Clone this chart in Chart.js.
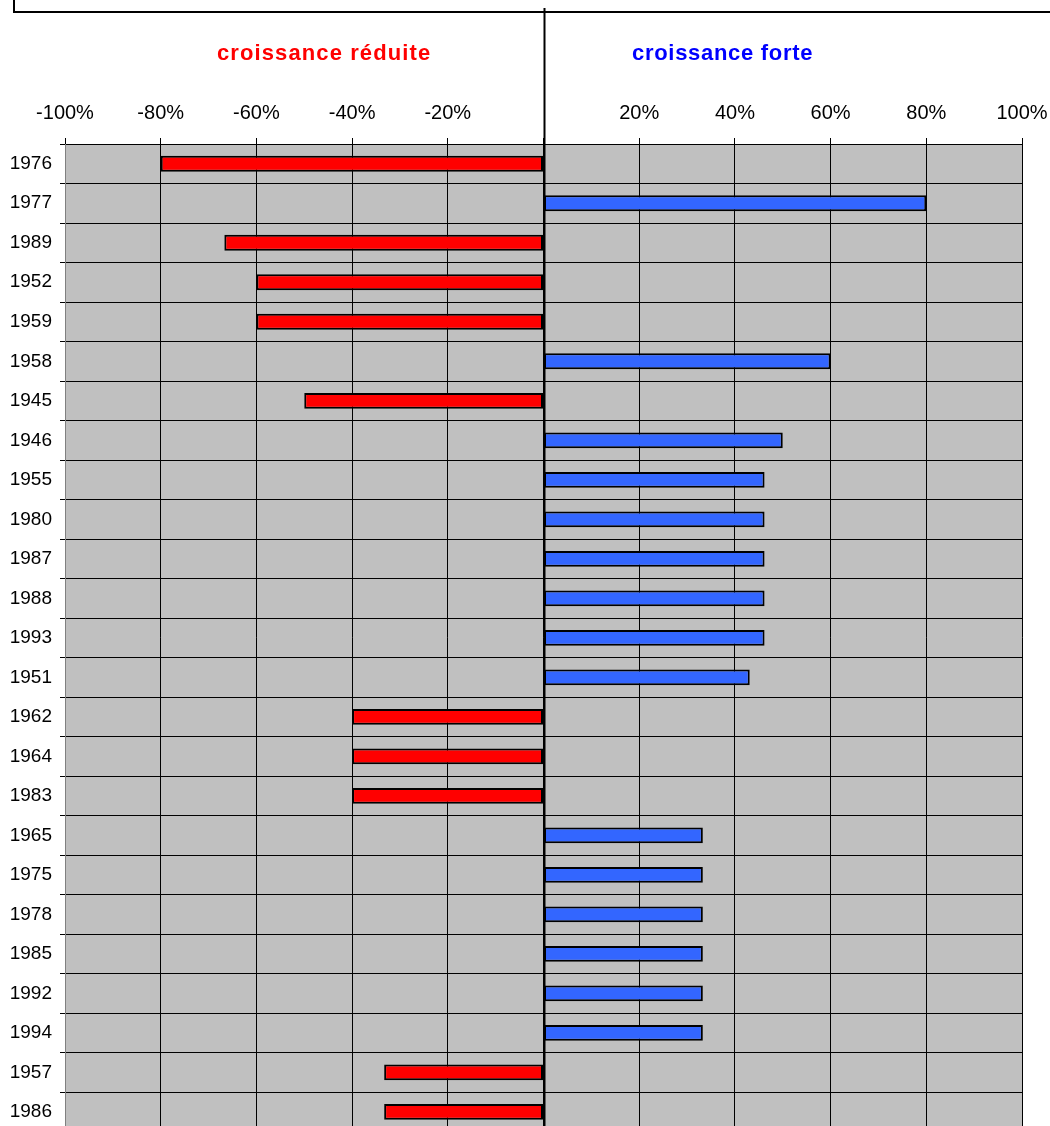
<!DOCTYPE html>
<html>
<head>
<meta charset="utf-8">
<script src="https://cdn.jsdelivr.net/npm/chart.js@4/dist/chart.umd.min.js"></script>
<style>
  html, body { margin: 0; padding: 0; background: #fff; overflow: hidden; }
  #cadre { position: absolute; left: 0; top: 0; width: 1050px; height: 1151px; }
  #bord { position: absolute; left: 13px; top: -4px; width: 1100px; height: 13px; border: 2px solid #000; }
  .titre { position: absolute; top: 42px; line-height: 22px; font-family: "Liberation Sans", Arial, sans-serif; font-weight: bold; font-size: 22px; letter-spacing: 1.1px; }
  #reduite { left: 217px; color: #ff0000; }
  #forte { left: 632px; color: #0000ff; letter-spacing: 0.7px; }
</style>
</head>
<body>
<div id="cadre">
  <canvas id="grafico" width="1050" height="1151"></canvas>
  <div id="bord"></div>
  <div class="titre" id="reduite">croissance réduite</div>
  <div class="titre" id="forte">croissance forte</div>
</div>
<script>
  // Années (ordre du graphique) et écart de croissance en %
  const annees = ['1976', '1977', '1989', '1952', '1959', '1958', '1945', '1946', '1955', '1980',
    '1987', '1988', '1993', '1951', '1962', '1964', '1983', '1965', '1975', '1978',
    '1985', '1992', '1994', '1957', '1986'];
  const ecarts = [-80, 80, -66.7, -60, -60, 60, -50, 50, 46.2, 46.2,
    46.2, 46.2, 46.2, 43.1, -40, -40, -40, 33.3, 33.3, 33.3,
    33.3, 33.3, 33.3, -33.3, -33.3];
  const graduations = [-100, -80, -60, -40, -20, 0, 20, 40, 60, 80, 100];

  const police = "'Liberation Sans', Arial, sans-serif";

  // fond gris de la zone de tracé + trait vertical du zéro
  const decor = {
    id: 'decor',
    beforeDraw(chart) {
      const { ctx, chartArea } = chart;
      ctx.save();
      ctx.fillStyle = '#c0c0c0';
      ctx.fillRect(chartArea.left, chartArea.top, chartArea.right - chartArea.left, chartArea.bottom - chartArea.top);
      ctx.restore();
    },
    afterDatasetsDraw(chart) {
      const { ctx, chartArea } = chart;
      const x0 = Math.round(chart.scales.x.getPixelForValue(0)) + 0.5;
      ctx.save();
      ctx.strokeStyle = '#000';
      ctx.lineWidth = 2;
      ctx.beginPath();
      ctx.moveTo(x0, 8);
      ctx.lineTo(x0, chartArea.bottom);
      ctx.stroke();
      ctx.restore();
    }
  };

  new Chart(document.getElementById('grafico').getContext('2d'), {
    type: 'bar',
    data: {
      labels: annees,
      datasets: [{
        data: ecarts,
        backgroundColor: c => (c.raw < 0 ? '#ff0000' : '#3366ff'),
        borderColor: '#000',
        borderWidth: 2,
        borderSkipped: false,
        barPercentage: 0.4,
        categoryPercentage: 1
      }]
    },
    options: {
      indexAxis: 'y',
      responsive: false,
      animation: false,
      layout: { padding: { top: 88, right: 28, bottom: 0, left: 0 } },
      plugins: { legend: { display: false }, tooltip: { enabled: false } },
      scales: {
        x: {
          position: 'top',
          min: -100,
          max: 100,
          afterBuildTicks: s => { s.ticks = graduations.map(v => ({ value: v })); },
          afterFit: s => { s.paddingLeft = 0; s.paddingRight = 0; },
          ticks: {
            callback: v => (v === 0 ? '' : v + '%'),
            color: '#000',
            font: { family: police, size: 20 },
            padding: 13,
            maxRotation: 0
          },
          grid: { color: '#000', lineWidth: 1, tickLength: 6, drawTicks: true },
          border: { display: false }
        },
        y: {
          afterFit: s => { s.width = 65; },
          ticks: {
            color: '#000',
            font: { family: police, size: 19 },
            padding: 8
          },
          grid: { color: '#000', lineWidth: 1, offset: true, tickLength: 5 },
          border: { color: '#808080', width: 1 }
        }
      }
    },
    plugins: [decor]
  });
</script>
</body>
</html>
